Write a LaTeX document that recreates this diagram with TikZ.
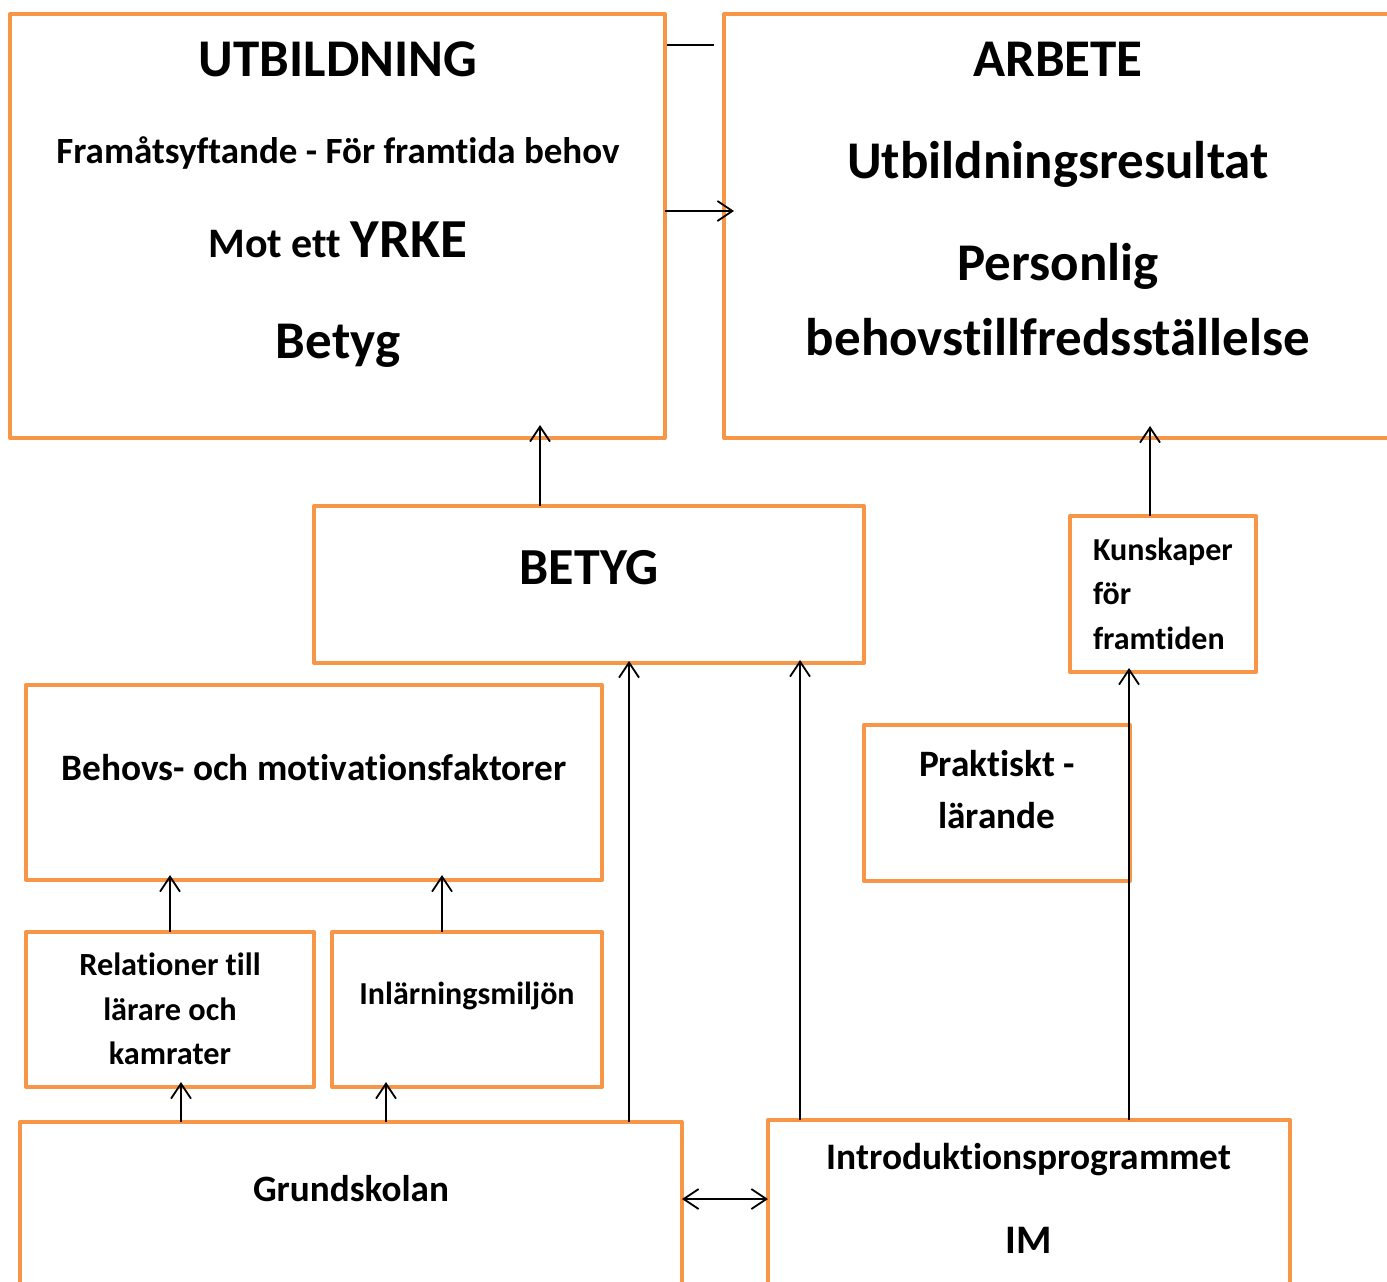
\documentclass[tikz,border=0pt]{standalone}
\usepackage{fontspec}
\setmainfont{Carlito}[Ligatures=NoCommon]
\usetikzlibrary{arrows.meta}
\definecolor{boxorange}{HTML}{F79646}
\newcommand{\fsz}[1]{\fontsize{#1}{#1}\selectfont\bfseries}
\tikzset{
  box/.style={draw=boxorange, line width=4pt, line join=round, rectangle, outer sep=0pt, inner sep=0pt},
  txt/.style={anchor=base, inner sep=0pt, outer sep=0pt, text=black},
  arr/.style={line width=1.8pt, -{Straight Barb[length=15pt,width=20pt]}},
  dblarr/.style={line width=1.8pt, {Straight Barb[length=15pt,width=20pt]}-{Straight Barb[length=15pt,width=20pt]}},
  plain/.style={line width=1.8pt}
}
\begin{document}
\begin{tikzpicture}[x=1pt,y=-1pt]
\useasboundingbox (0,0) rectangle (1387,1282);
\clip (0,0) rectangle (1387,1282);
\fill[white] (0,0) rectangle (1387,1282);
% boxes
\node[box, minimum width=655pt, minimum height=424pt] (utb) at (337.5,226) {};
\node[box, minimum width=696pt, minimum height=424pt] (arb) at (1072,226) {};
\node[box, minimum width=550pt, minimum height=157pt] (betyg) at (589,584.5) {};
\node[box, minimum width=186pt, minimum height=156pt] (kun) at (1163,594) {};
\node[box, minimum width=576pt, minimum height=195pt] (behov) at (314,782.5) {};
\node[box, minimum width=266pt, minimum height=156pt] (prak) at (997,803) {};
\node[box, minimum width=288pt, minimum height=155pt] (rel) at (170,1009.5) {};
\node[box, minimum width=270pt, minimum height=155pt] (inl) at (467,1009.5) {};
\node[box, minimum width=662pt, minimum height=198pt] (grund) at (351,1221) {};
\node[box, minimum width=522pt, minimum height=200pt] (im) at (1029,1220) {};
% texts
\node[txt] (t1) at (338,76.5) {\fsz{53}UTBILDNING};
\node[txt] (t2) at (338,163.5) {\fsz{37}Framåtsyftande - För framtida behov};
\node[txt] (t3) at (338,257.5) {\fsz{42}Mot ett \fsz{55}YRKE};
\node[txt] (t4) at (338,358) {\fsz{53}Betyg};
\node[txt] (t5) at (1058,76.5) {\fsz{53}ARBETE};
\node[txt] (t6) at (1058,178) {\fsz{53}Utbildningsresultat};
\node[txt] (t7) at (1058,280) {\fsz{53}Personlig};
\node[txt] (t8) at (1058,355) {\fsz{53}behovstillfredsställelse};
\node[txt] (t9) at (589,584) {\fsz{52}BETYG};
\node[txt, anchor=base west] (t10) at (1093,560) {\fsz{32}Kunskaper};
\node[txt, anchor=base west] (t11) at (1093,604.5) {\fsz{32}för};
\node[txt, anchor=base west] (t12) at (1093,649) {\fsz{32}framtiden};
\node[txt] (t13) at (314,780) {\fsz{37.3}Behovs- och motivationsfaktorer};
\node[txt] (t14) at (997,776) {\fsz{37.3}Praktiskt -};
\node[txt] (t15) at (997,828) {\fsz{37.3}lärande};
\node[txt] (t16) at (170,975) {\fsz{32.3}Relationer till};
\node[txt] (t17) at (170,1020) {\fsz{32.3}lärare och};
\node[txt] (t18) at (170,1064) {\fsz{32.3}kamrater};
\node[txt] (t19) at (467,1004.5) {\fsz{32}Inlärningsmiljön};
\node[txt] (t20) at (351,1201) {\fsz{37.2}Grundskolan};
\node[txt] (t21) at (1029,1169) {\fsz{37.4}Introduktionsprogrammet};
\node[txt] (t22) at (1029,1253) {\fsz{40.5}IM};
% x / y reference coordinates
\coordinate (x540) at (540,0);
\coordinate (x1150) at (1150,0);
\coordinate (x629) at (629,0);
\coordinate (x800) at (800,0);
\coordinate (x1129) at (1129,0);
\coordinate (x170) at (170,0);
\coordinate (x442) at (442,0);
\coordinate (x181) at (181,0);
\coordinate (x386) at (386,0);
\coordinate (y45) at (0,45);
\coordinate (y211) at (0,211);
\coordinate (y1199) at (0,1199);
% connectors
\draw[arr, shorten >=-13pt] (betyg.north -| x540) -- (utb.south -| x540);
\draw[arr, shorten >=-12pt] (kun.north -| x1150) -- (arb.south -| x1150);
\draw[arr, shorten >=-2pt] (grund.north -| x629) -- (betyg.south -| x629);
\draw[arr, shorten >=-3pt] (im.north -| x800) -- (betyg.south -| x800);
\draw[arr, shorten >=-4pt] (im.north -| x1129) -- (kun.south -| x1129);
\draw[arr, shorten >=-5pt] (rel.north -| x170) -- (behov.south -| x170);
\draw[arr, shorten >=-5pt] (inl.north -| x442) -- (behov.south -| x442);
\draw[arr, shorten >=-5pt] (grund.north -| x181) -- (rel.south -| x181);
\draw[arr, shorten >=-5pt] (grund.north -| x386) -- (inl.south -| x386);
\draw[arr, shorten >=-10pt] (utb.east |- y211) -- (arb.west |- y211);
\draw[plain, shorten <=2pt, shorten >=10pt] (utb.east |- y45) -- (arb.west |- y45);
\draw[dblarr] (grund.east |- y1199) -- (im.west |- y1199);
\end{tikzpicture}
\end{document}
